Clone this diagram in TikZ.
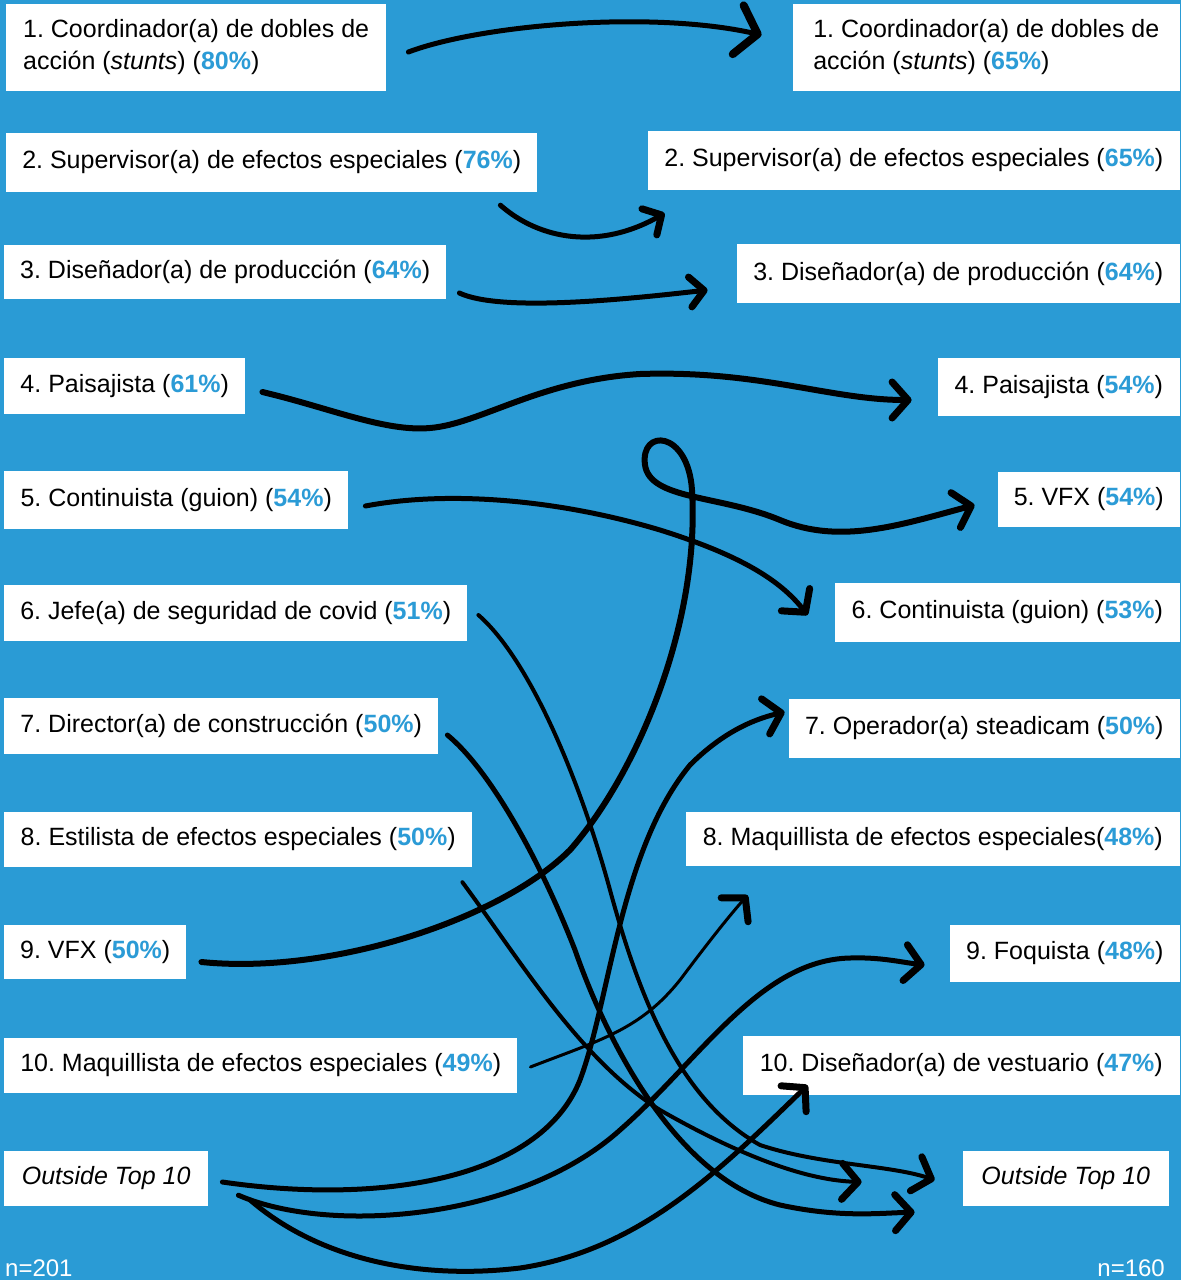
\documentclass[tikz,border=0pt]{standalone}
\usepackage{fontspec}
\setmainfont{Liberation Sans}
\usetikzlibrary{arrows.meta}
\definecolor{bg}{RGB}{42,155,213}
\definecolor{pct}{RGB}{43,155,214}
\newcommand{\pc}[1]{\textbf{\color{pct}#1}}
\frenchspacing
\begin{document}
\begin{tikzpicture}[x=1pt,y=-1pt,
  box/.style={fill=white, inner xsep=16pt, inner ysep=0pt, text=black, font=\fontsize{25}{32}\selectfont},
  lb/.style={box, anchor=west, align=left},
  rb/.style={box, anchor=east, align=right},
  link/.style={draw=black, line width=5pt, line cap=round, line join=round,
    -{Straight Barb[length=16pt,width=36pt,line width=7pt,round]}},
  bigtip/.style={-{Straight Barb[length=20pt,width=50pt,line width=8pt,round]}},
  smalltip/.style={-{Straight Barb[length=14pt,width=30pt,line width=7pt,round]}},
  nlab/.style={text=white, inner sep=0pt, font=\fontsize{24}{28}\selectfont}]
\fill[bg] (0,0) rectangle (1181,1280);
\useasboundingbox (0,0) rectangle (1181,1280);
% left column
\node[lb, minimum height=87pt, minimum width=380pt] (L1) at (6,47.5) {1. Coordinador(a) de dobles de\\acción (\textit{stunts}) (\pc{80\%})};
\node[lb, minimum height=59pt, minimum width=531pt] (L2) at (6,162.5) {2. Supervisor(a) de efectos especiales (\pc{76\%})};
\node[lb, minimum height=54pt, minimum width=441pt] (L3) at (4,272) {3. Diseñador(a) de producción (\pc{64\%})};
\node[lb, minimum height=56pt, minimum width=241pt] (L4) at (4,386) {4. Paisajista (\pc{61\%})};
\node[lb, minimum height=58pt, minimum width=344pt] (L5) at (4,500) {5. Continuista (guion) (\pc{54\%})};
\node[lb, minimum height=56pt, minimum width=463pt] (L6) at (4,613) {6. Jefe(a) de seguridad de covid (\pc{51\%})};
\node[lb, minimum height=56pt, minimum width=434pt] (L7) at (4,726) {7. Director(a) de construcción (\pc{50\%})};
\node[lb, minimum height=55pt, minimum width=468pt] (L8) at (4,839.5) {8. Estilista de efectos especiales (\pc{50\%})};
\node[lb, minimum height=54pt, minimum width=181pt] (L9) at (4,952) {9. VFX (\pc{50\%})};
\node[lb, minimum height=55pt, minimum width=513pt] (L10) at (4,1065.5) {10. Maquillista de efectos especiales (\pc{49\%})};
\node[lb, minimum height=55pt, minimum width=204pt] (LO) at (4,1178.5) {\textit{Outside Top 10}};
% right column
\node[rb, minimum height=87pt, minimum width=387pt, align=left] (R1) at (1180,47.5) {1. Coordinador(a) de dobles de\\acción (\textit{stunts}) (\pc{65\%})};
\node[rb, minimum height=59pt, minimum width=532pt] (R2) at (1180,160.5) {2. Supervisor(a) de efectos especiales (\pc{65\%})};
\node[rb, minimum height=59pt, minimum width=443pt] (R3) at (1180,273.5) {3. Diseñador(a) de producción (\pc{64\%})};
\node[rb, minimum height=58pt, minimum width=242pt] (R4) at (1180,387) {4. Paisajista (\pc{54\%})};
\node[rb, minimum height=55pt, minimum width=182pt] (R5) at (1180,499.5) {5. VFX (\pc{54\%})};
\node[rb, minimum height=59pt, minimum width=345pt] (R6) at (1180,612.5) {6. Continuista (guion) (\pc{53\%})};
\node[rb, minimum height=59pt, minimum width=391pt] (R7) at (1180,728.5) {7. Operador(a) steadicam (\pc{50\%})};
\node[rb, minimum height=54pt, minimum width=494pt] (R8) at (1180,839) {8. Maquillista de efectos especiales(\pc{48\%})};
\node[rb, minimum height=57pt, minimum width=230pt] (R9) at (1180,953.5) {9. Foquista (\pc{48\%})};
\node[rb, minimum height=59pt, minimum width=437pt] (R10) at (1180,1065.5) {10. Diseñador(a) de vestuario (\pc{47\%})};
\node[rb, minimum height=55pt, minimum width=206pt] (RO) at (1169,1178.5) {\textit{Outside Top 10}};
% sample sizes
\node[nlab, anchor=base west] (n1) at (5,1276) {n=201};
\node[nlab, anchor=base east] (n2) at (1165,1276) {n=160};
% connectors
\draw[link, bigtip] ([shift={(22,4.5)}]L1.east) .. controls (480,25) and (650,10) .. ([shift={(-31,-12.5)}]R1.west);
\draw[link, smalltip] ([shift={(-37,13)}]L2.south east) .. controls (540,240) and (600,250) .. ([shift={(17,23)}]R2.south west);
\draw[link, smalltip] ([shift={(13,21)}]L3.east) .. controls (500,312) and (620,300) .. ([shift={(-29,16.5)}]R3.west);
\draw[link, line width=6pt] ([shift={(17,6)}]L4.east) .. controls (330,408) and (385,432) .. (430,428)
   .. controls (480,424) and (540,380) .. (640,374) .. controls (760,370) and (830,400) .. ([shift={(-26,13)}]R4.west);
\draw[link, line width=6pt] ([shift={(15,10)}]L9.east) .. controls (330,975) and (500,920) .. (570,850)
   .. controls (640,770) and (700,620) .. (692,490) .. controls (688,430) and (640,428) .. (645,465)
   .. controls (650,500) and (720,495) .. (780,520) .. controls (840,545) and (900,525) .. ([shift={(-23,5.5)}]R5.west);
\draw[link] ([shift={(17,6)}]L5.east) .. controls (450,490) and (560,500) .. (660,530)
   .. controls (740,555) and (780,580) .. ([shift={(-27,2.5)}]R6.west);
\draw[link, line width=4pt] ([shift={(11,2)}]L6.east) .. controls (530,660) and (580,780) .. (610,890)
   .. controls (640,1000) and (680,1100) .. (760,1145) .. controls (820,1165) and (890,1165) .. ([shift={(-28,1.5)}]RO.west);
\draw[link] ([shift={(9,9)}]L7.east) .. controls (490,770) and (540,860) .. (575,950)
   .. controls (610,1050) and (680,1180) .. (780,1205) .. controls (840,1218) and (880,1213) .. ([shift={(-48,6)}]RO.south west);
\draw[link, line width=4pt] ([shift={(-10,15)}]L8.south east) .. controls (520,960) and (580,1060) .. (660,1110)
   .. controls (730,1150) and (800,1180) .. ([shift={(-101,3.5)}]RO.west);
\draw[link, line width=3pt] ([shift={(13,1.5)}]L10.east) .. controls (600,1040) and (640,1030) .. (680,980)
   .. controls (710,940) and (730,915) .. ([shift={(62,29)}]R8.south west);
\draw[link] ([shift={(14,3.5)}]LO.east) .. controls (380,1205) and (540,1180) .. (580,1080)
   .. controls (610,1000) and (620,850) .. (690,765) .. controls (720,735) and (750,720) .. ([shift={(-4,-16.5)}]R7.west);
\draw[link] ([shift={(30,-11)}]LO.south east) .. controls (330,1235) and (520,1220) .. (620,1130)
   .. controls (700,1060) and (760,960) .. (850,958) .. controls (880,957) and (900,962) .. ([shift={(-25,11.5)}]R9.west);
\draw[link] ([shift={(42,-6)}]LO.south east) .. controls (320,1260) and (420,1280) .. (520,1268)
   .. controls (640,1250) and (720,1170) .. ([shift={(65,-10)}]R10.south west);
\end{tikzpicture}
\end{document}
